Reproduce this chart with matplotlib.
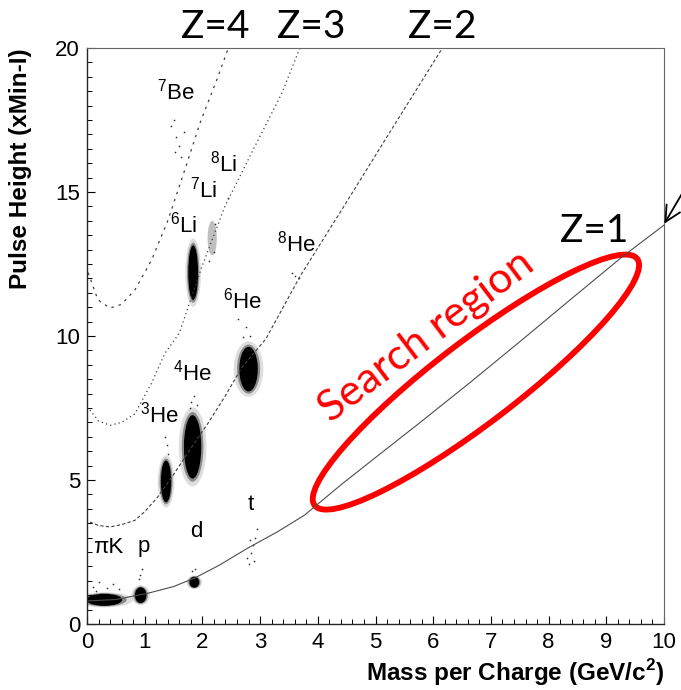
import matplotlib
matplotlib.use("Agg")
import matplotlib.pyplot as plt
from matplotlib.patches import Ellipse
from matplotlib.transforms import ScaledTranslation
from matplotlib.ticker import MultipleLocator

plt.rcParams['font.family'] = ['Liberation Sans', 'DejaVu Sans']
plt.rcParams['mathtext.fontset'] = 'custom'
plt.rcParams['mathtext.rm'] = 'Liberation Sans'
plt.rcParams['mathtext.bf'] = 'Liberation Sans:bold'

# charge curves (mass per charge vs pulse height)
z1_x = [0.0, 0.5, 1.06, 1.5, 1.87, 2.3, 2.79, 3.3, 3.77, 4.4, 5.0, 5.8, 6.63, 7.5, 8.4, 9.27, 10.0]
z1_y = [0.8, 0.85, 1.07, 1.3, 1.6, 2.05, 2.64, 3.2, 3.78, 4.83, 5.78, 7.04, 8.37, 9.8, 11.3, 12.74, 13.85]
z2_x = [0.05, 0.2, 0.4, 0.6, 0.83, 1.0, 1.21, 1.47, 1.8, 2.1, 2.39, 2.68, 3.1, 3.7, 4.38, 5.24, 6.16]
z2_y = [3.54, 3.42, 3.37, 3.45, 3.6, 3.9, 4.37, 5.1, 6.1, 6.98, 7.9, 8.9, 9.9, 12.1, 14.27, 17.05, 20.0]
z3_x = [0.05, 0.2, 0.4, 0.6, 0.83, 1.12, 1.35, 1.6, 1.99, 2.39, 2.85, 3.37, 3.69]
z3_y = [7.43, 7.05, 6.9, 7.0, 7.3, 8.37, 9.4, 10.1, 12.4, 14.5, 16.35, 18.4, 20.0]
z4_x = [0.02, 0.19, 0.4, 0.6, 0.83, 1.12, 1.4, 1.7, 1.96, 2.25, 2.45]
z4_y = [12.2, 11.25, 10.97, 11.1, 11.6, 12.64, 14.0, 15.8, 17.4, 18.9, 20.0]

# dense particle clusters: centre and spread
blob_names = ['piK', 'p', 'd', '3He', '4He', '6He', '6Li']
blob_x = [0.30, 0.93, 1.86, 1.37, 1.83, 2.80, 1.84]
blob_y = [0.84, 1.00, 1.45, 4.95, 6.15, 8.85, 12.2]
blob_w = [0.62, 0.20, 0.17, 0.18, 0.30, 0.32, 0.17]
blob_h = [0.42, 0.55, 0.38, 1.45, 2.20, 1.55, 1.90]

# faint cluster (7Li)
faint_x = [2.17]
faint_y = [13.4]
faint_w = [0.16]
faint_h = [1.2]

# sparse single events
sparse_x = [1.50, 1.55, 1.60, 1.63, 1.52, 1.68, 1.45, 2.44, 3.60, 3.68, 3.55,
            2.62, 2.75, 2.82, 2.70, 2.78, 2.85, 2.90, 2.83, 2.92, 2.88, 2.95, 2.80,
            0.10, 0.20, 0.35, 0.45, 0.55, 0.15, 0.92, 0.95, 0.90, 1.82, 1.88,
            1.80, 1.85, 1.78, 1.90, 1.38, 1.35, 1.40, 2.12, 2.22, 2.20]
sparse_y = [17.5, 16.9, 16.6, 16.2, 16.4, 17.1, 17.3, 14.8, 12.1, 12.0, 12.2,
            10.6, 10.3, 10.0, 9.95, 2.30, 2.45, 2.20, 2.90, 3.00, 2.75, 3.30, 2.10,
            1.30, 1.45, 1.25, 1.40, 1.20, 1.15, 1.70, 1.90, 1.55, 1.85, 1.90,
            7.70, 7.90, 7.50, 7.60, 6.20, 6.50, 5.90, 12.6, 13.9, 12.9]

# isotope labels: (text, left x, baseline y)
iso_text = [r'$^{7}$Be', r'$^{8}$Li', r'$^{7}$Li', r'$^{6}$Li', r'$^{8}$He', r'$^{6}$He',
            r'$^{4}$He', r'$^{3}$He', '\u03c0K', 'p', 'd', 't']
iso_x = [1.21, 2.13, 1.78, 1.44, 3.29, 2.35, 1.49, 0.92, 0.10, 0.88, 1.78, 2.79]
iso_y = [18.2, 15.7, 14.8, 13.58, 12.92, 10.97, 8.47, 6.98, 2.47, 2.5, 3.02, 3.96]

z_text = ['Z=4', 'Z=3', 'Z=2']
z_text_x = [2.23, 3.88, 6.16]

fig = plt.figure(figsize=(6.81, 6.90), dpi=100)
ax = fig.add_axes([87 / 681, 66 / 690, 577 / 681, 576 / 690])

ax.plot(z1_x, z1_y, color='0.3', lw=0.8)
ax.plot(z2_x, z2_y, color='0.25', lw=0.8, ls=(0, (3, 2)))
ax.plot(z3_x, z3_y, color='0.25', lw=0.9, ls=(0, (1, 2.5)))
ax.plot(z4_x, z4_y, color='0.25', lw=0.9, ls=(0, (2, 4)))

for cx, cy, w, h in zip(blob_x, blob_y, blob_w, blob_h):
    ax.add_patch(Ellipse((cx, cy), w * 1.6, h * 1.25, color='0.3', alpha=0.18, lw=0))
    ax.add_patch(Ellipse((cx, cy), w * 1.25, h * 1.1, color='0.15', alpha=0.45, lw=0))
    ax.add_patch(Ellipse((cx, cy), w, h, color='black', lw=0))
for cx, cy, w, h in zip(faint_x, faint_y, faint_w, faint_h):
    ax.add_patch(Ellipse((cx, cy), w, h, color='0.55', alpha=0.55, lw=0))
ax.scatter(sparse_x, sparse_y, s=1.5, color='0.2', lw=0)

for t, x, y in zip(iso_text, iso_x, iso_y):
    ax.text(x, y, t, fontsize=16, ha='left', va='baseline')

for t, x in zip(z_text, z_text_x):
    ax.text(x, 20.35, t, fontsize=28, family=['Lato', 'DejaVu Sans'],
            ha='center', va='baseline', clip_on=False)
ax.text(8.79, 13.26, 'Z=1', fontsize=28, family=['Lato', 'DejaVu Sans'],
        ha='center', va='baseline')

# search region annotation
ell = Ellipse((0, 0), width=4.06, height=0.82, angle=37.4, fill=False,
              edgecolor='#ff0000', lw=4.2,
              transform=fig.dpi_scale_trans + ScaledTranslation(6.74, 8.40, ax.transData))
ax.add_patch(ell)
ax.text(5.88, 10.0, 'Search region', color='#ff0000', fontsize=31,
        family=['Lato', 'DejaVu Sans'], rotation=37, rotation_mode='anchor',
        ha='center', va='center')

ax.annotate('', xy=(663, 464), xycoords='figure pixels',
            xytext=(690, 510), textcoords='figure pixels',
            arrowprops=dict(arrowstyle='->', color='black', lw=1.3,
                            mutation_scale=28))

ax.set_xlim(0, 10)
ax.set_ylim(0, 20)
ax.xaxis.set_major_locator(MultipleLocator(1))
ax.xaxis.set_minor_locator(MultipleLocator(0.2))
ax.yaxis.set_major_locator(MultipleLocator(5))
ax.yaxis.set_minor_locator(MultipleLocator(0.5))
ax.tick_params(which='both', direction='in', top=False, right=False, labelsize=16)
ax.tick_params(which='major', length=6, width=0.8)
ax.tick_params(which='minor', length=3.5, width=0.7)
ax.tick_params(axis='x', pad=5.5)
ax.tick_params(axis='y', pad=5)
for side in ['top', 'right']:
    ax.spines[side].set_color('0.4')
    ax.spines[side].set_linewidth(0.8)
for side in ['left', 'bottom']:
    ax.spines[side].set_color('0.15')
    ax.spines[side].set_linewidth(1.0)

ax.set_ylabel('Pulse Height (xMin-I)', fontsize=17.5, fontweight='bold', loc='top')
ax.yaxis.set_label_coords(-0.095, 1.0)
ax.set_xlabel(r'Mass per Charge (GeV/c$^{\mathbf{2}}$)', fontsize=17.5,
              fontweight='bold', loc='right', va='top')
ax.xaxis.set_label_coords(1.0, -0.058)

fig.savefig('out.png', dpi=100)
